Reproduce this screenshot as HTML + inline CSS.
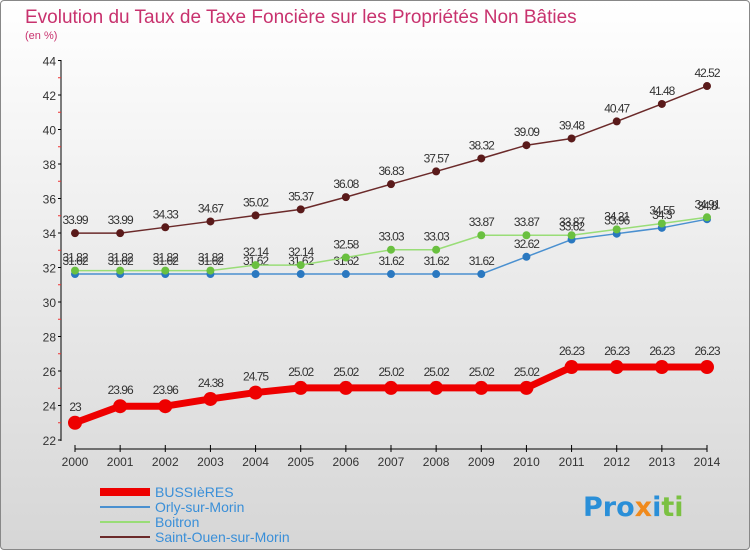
<!DOCTYPE html>
<html><head><meta charset="utf-8"><style>
body{margin:0;width:750px;height:550px;overflow:hidden;font-family:"Liberation Sans",sans-serif}
#c{position:absolute;left:0;top:0;width:748px;height:548px;border:1px solid #888;background:linear-gradient(#fff,#d6d6d6);border-radius:4px}
</style></head><body>
<div id="c"></div>
<svg id="s" width="750" height="550" style="position:absolute;left:0;top:0" font-family="Liberation Sans, sans-serif">
<text x="25" y="23" font-size="19" fill="#c8326e">Evolution du Taux de Taxe Foncière sur les Propriétés Non Bâties</text>
<text x="25" y="39" font-size="11" fill="#c8326e">(en %)</text>
<g id="axes"></g><g id="series"></g><g id="legend"></g>
<g font-size="27" font-weight="bold" font-family="DejaVu Sans, sans-serif">
<text x="583" y="516"><tspan fill="#2a8fd8">Pro</tspan><tspan fill="#f08a1c">x</tspan><tspan fill="#2a8fd8">i</tspan><tspan fill="#7bc142">ti</tspan></text>
</g>
</svg>
<script>
const years=[2000,2001,2002,2003,2004,2005,2006,2007,2008,2009,2010,2011,2012,2013,2014];
const yTicks=[22,24,26,28,30,32,34,36,38,40,42,44];
const bussieres=[23,23.96,23.96,24.38,24.75,25.02,25.02,25.02,25.02,25.02,25.02,26.23,26.23,26.23,26.23];
const orly=[31.62,31.62,31.62,31.62,31.62,31.62,31.62,31.62,31.62,31.62,32.62,33.62,33.96,34.3,34.8];
const boitron=[31.82,31.82,31.82,31.82,32.14,32.14,32.58,33.03,33.03,33.87,33.87,33.87,34.21,34.55,34.91];
const saintOuen=[33.99,33.99,34.33,34.67,35.02,35.37,36.08,36.83,37.57,38.32,39.09,39.48,40.47,41.48,42.52];
const NS="http://www.w3.org/2000/svg";
const xs=i=>75+i*(707-75)/14;
const ys=v=>440-(v-22)*(379.5/22);
function mk(t,a,p){const e=document.createElementNS(NS,t);for(const k in a)e.setAttribute(k,a[k]);p.appendChild(e);return e;}
const ax=document.getElementById('axes');
let yl=mk('line',{x1:61,y1:60,x2:61,y2:441,stroke:'#000','stroke-width':1},ax);


yTicks.forEach(v=>{
 mk('line',{x1:58,y1:ys(v),x2:61,y2:ys(v),stroke:'#000'},ax);
 if(v<44)mk('line',{x1:58,y1:ys(v+1),x2:61,y2:ys(v+1),stroke:'#e33'},ax);
 const t=mk('text',{x:56,y:ys(v)+5,'font-size':12,'text-anchor':'end',fill:'#333'},ax);t.textContent=v;
 
 
});
let xl=mk('line',{x1:75,y1:449,x2:707,y2:449,stroke:'#000'},ax);


years.forEach((y,i)=>{
 mk('line',{x1:xs(i),y1:445,x2:xs(i),y2:452,stroke:'#000'},ax);
 const t=mk('text',{x:xs(i),y:466,'font-size':12,'text-anchor':'middle',fill:'#333'},ax);t.textContent=y;
 
 
});
const sg=document.getElementById('series');
function draw(arr,color,dot,w,r,name){
 const g=mk('g',{},sg);
 
 
 mk('polyline',{points:arr.map((v,i)=>xs(i)+','+ys(v)).join(' '),fill:'none',stroke:color,'stroke-width':w,'stroke-linejoin':'round'},g);
 arr.forEach((v,i)=>{
  const c=mk('circle',{cx:xs(i),cy:ys(v),r:r,fill:dot},g);
  
  
  const t=mk('text',{x:xs(i),y:ys(v)-9-(r>4?3:0),'font-size':12,'text-anchor':'middle',fill:'#333','letter-spacing':'-1'},g);
  t.textContent=v;
 });
}
draw(saintOuen,'#6b2a2a','#5a1a1a',1.5,4,'saint-ouen-series');
draw(orly,'#4a90d0','#2a78c0',1.5,4,'orly-series');
draw(boitron,'#99dd77','#6ac040',1.5,4,'boitron-series');
draw(bussieres,'#ee0000','#ee0000',7,7,'bussieres-series');
const lg=document.getElementById('legend');
[['BUSSIèRES','#ee0000',8],['Orly-sur-Morin','#4a90d0',2],['Boitron','#99dd77',2],['Saint-Ouen-sur-Morin','#6b2a2a',2]].forEach((d,i)=>{
 const y=492+i*15;
 const g=mk('g',{},lg);
 
 
 mk('line',{x1:100,y1:y,x2:150,y2:y,stroke:d[1],'stroke-width':d[2]},g);
 const t=mk('text',{x:155,y:y+5,'font-size':14,fill:'#3a8fd8'},g);t.textContent=d[0];
});
</script>
</body></html>
